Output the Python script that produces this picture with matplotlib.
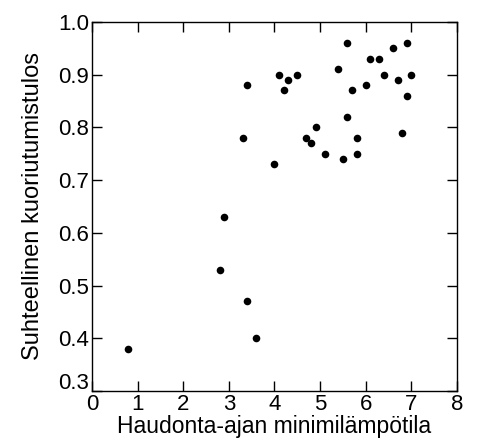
import matplotlib
matplotlib.use("Agg")
import matplotlib.pyplot as plt
import matplotlib.transforms as mtransforms

# minimum temperature during incubation vs relative hatching success
min_temp = [0.8, 2.8, 2.9, 3.3, 3.4, 3.4, 3.6, 4.0, 4.1, 4.2, 4.3, 4.5,
            4.7, 4.8, 4.9, 5.1, 5.4, 5.5, 5.6, 5.6, 5.7, 5.8, 5.8, 6.0,
            6.1, 6.3, 6.4, 6.6, 6.7, 6.8, 6.9, 6.9, 7.0]
hatch = [0.38, 0.53, 0.63, 0.78, 0.88, 0.47, 0.40, 0.73, 0.90, 0.87, 0.89, 0.90,
         0.78, 0.77, 0.80, 0.75, 0.91, 0.74, 0.96, 0.82, 0.87, 0.78, 0.75, 0.88,
         0.93, 0.93, 0.90, 0.95, 0.89, 0.79, 0.96, 0.86, 0.90]

xticks = [0, 1, 2, 3, 4, 5, 6, 7, 8]
yticks = [0.3, 0.4, 0.5, 0.6, 0.7, 0.8, 0.9, 1.0]

plt.rcParams["font.family"] = ["Liberation Sans", "DejaVu Sans"]

fig = plt.figure(figsize=(4.79, 4.46), dpi=100)
ax = fig.add_axes([0.192, 0.123, 0.762, 0.828])

ax.scatter(min_temp, hatch, s=30, color="black", linewidths=0, zorder=3)

ax.set_xlim(0, 8)
ax.set_ylim(0.3, 1.0)
ax.set_xticks(xticks)
ax.set_yticks(yticks)
ax.set_xticklabels([str(t) for t in xticks])
ax.set_yticklabels(["%.1f" % t for t in yticks])
ax.tick_params(direction="in", length=7, width=1, top=True, right=True,
               labelsize=16, pad=2)
for s in ax.spines.values():
    s.set_linewidth(1)

# the lowest y label sits a bit higher so it clears the x "0"
lab = ax.get_yticklabels()[0]
lab.set_transform(lab.get_transform() +
                  mtransforms.ScaledTranslation(0, 7 / 72, fig.dpi_scale_trans))

ax.set_xlabel("Haudonta-ajan minimilämpötila", fontsize=16.5, labelpad=0)
ax.set_ylabel("Suhteellinen kuoriutumistulos", fontsize=17, labelpad=10)

fig.savefig("out.png", dpi=100)
